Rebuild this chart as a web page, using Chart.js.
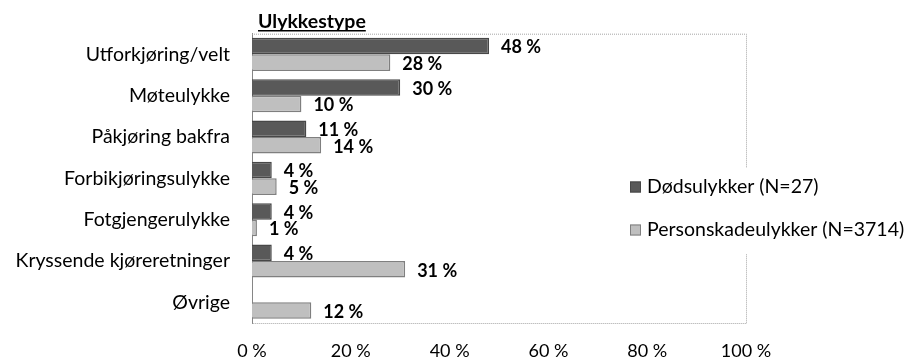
<!DOCTYPE html>
<html>
<head>
<meta charset="utf-8">
<script src="https://cdn.jsdelivr.net/npm/chart.js@4/dist/chart.umd.min.js"></script>
<style>
html,body{margin:0;padding:0;background:#fff;}
#wrap{width:905px;height:359px;position:relative;}
</style>
</head>
<body>
<div id="wrap"><canvas id="c" width="905" height="359"></canvas></div>
<script>
const categories = ["Utforkjøring/velt","Møteulykke","Påkjøring bakfra","Forbikjøringsulykke","Fotgjengerulykke","Kryssende kjøreretninger","Øvrige"];
const dodsulykker = [48, 30, 11, 4, 4, 4, null];
const personskade = [28, 10, 14, 5, 1, 31, 12];
const xTicks = [0, 20, 40, 60, 80, 100];
const seriesNames = ["Dødsulykker (N=27)", "Personskadeulykker (N=3714)"];
const chartTitle = "Ulykkestype";

const FONT = "Lato, 'Open Sans', sans-serif";

const decor = {
  id: 'decor',
  beforeDatasetsDraw(chart) {
    const {ctx, chartArea: a} = chart;
    ctx.save();
    ctx.strokeStyle = '#a6a6a6';
    ctx.lineWidth = 1;
    ctx.setLineDash([1, 1]);
    ctx.beginPath();
    ctx.moveTo(a.left, a.top + 0.5);
    ctx.lineTo(a.right + 0.5, a.top + 0.5);
    ctx.lineTo(a.right + 0.5, a.bottom + 0.5);
    ctx.lineTo(a.left, a.bottom + 0.5);
    ctx.stroke();
    ctx.restore();
  },
  afterDraw(chart) {
    const {ctx, chartArea: a} = chart;
    ctx.save();
    // data labels
    ctx.font = "bold 18px " + FONT;
    ctx.fillStyle = '#000';
    ctx.textBaseline = 'middle';
    ctx.textAlign = 'left';
    chart.data.datasets.forEach((ds, di) => {
      const meta = chart.getDatasetMeta(di);
      meta.data.forEach((el, i) => {
        const v = ds.data[i];
        if (v === null || v === undefined) return;
        ctx.fillText(v + ' %', el.x + 12, el.y + 1.5);
      });
    });
    // title
    ctx.font = "bold 19.5px " + FONT;
    ctx.textBaseline = 'alphabetic';
    const tx = 258, ty = 28;
    ctx.fillText(chartTitle, tx, ty);
    const w = ctx.measureText(chartTitle).width;
    ctx.fillRect(tx, ty + 2, w, 1.5);
    // legend
    const lx = 622, ly = 168;
    ctx.fillStyle = '#fff';
    ctx.fillRect(lx, ly, 290, 86);
    ctx.font = "19.5px " + FONT;
    ctx.textBaseline = 'middle';
    const rows = [187, 230];
    chart.data.datasets.forEach((ds, di) => {
      const y = rows[di];
      ctx.fillStyle = ds.backgroundColor;
      ctx.fillRect(630, y - 5.5, 11, 11);
      ctx.strokeStyle = ds.borderColor;
      ctx.lineWidth = 1;
      ctx.strokeRect(630.5, y - 5, 10, 10);
      ctx.fillStyle = '#000';
      ctx.fillText(ds.label, 647, y);
    });
    ctx.restore();
  }
};

new Chart(document.getElementById('c'), {
  type: 'bar',
  data: {
    labels: categories,
    datasets: [
      {label: seriesNames[0], data: dodsulykker, backgroundColor: '#595959', borderColor: '#474747', borderWidth: 1.5, categoryPercentage: 0.8, barPercentage: 1.0},
      {label: seriesNames[1], data: personskade, backgroundColor: '#bfbfbf', borderColor: '#7f7f7f', borderWidth: 1.5, categoryPercentage: 0.8, barPercentage: 1.0}
    ]
  },
  options: {
    indexAxis: 'y',
    responsive: false,
    animation: false,
    layout: {padding: {left: 0, right: 159, top: 33, bottom: 0}},
    plugins: {legend: {display: false}, tooltip: {enabled: false}, title: {display: false}},
    scales: {
      x: {
        min: 0, max: 100,
        afterBuildTicks(scale) { scale.ticks = xTicks.map(v => ({value: v})); },
        afterFit(scale) { scale.height = 36; },
        grid: {display: false, drawTicks: false},
        border: {display: false},
        ticks: {color: '#000', font: {family: FONT, size: 18}, padding: 17, callback: v => v + ' %', maxRotation: 0}
      },
      y: {
        afterFit(scale) { scale.width = 252; },
        grid: {display: false, drawTicks: false},
        border: {display: true, color: '#868686', width: 1},
        ticks: {color: '#000', font: {family: FONT, size: 19.5}, padding: 22}
      }
    }
  },
  plugins: [decor]
});
</script>
</body>
</html>
